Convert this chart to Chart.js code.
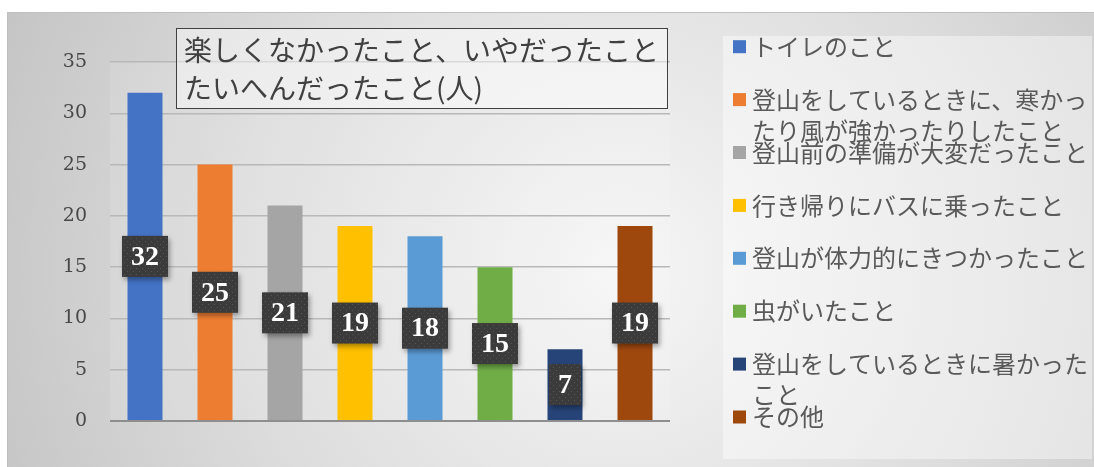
<!DOCTYPE html>
<html><head><meta charset="utf-8">
<script src="https://cdn.jsdelivr.net/npm/chart.js@4/dist/chart.umd.min.js"></script>
<style>html,body{margin:0;padding:0;background:#fff;overflow:hidden}canvas{display:block}</style>
</head><body>
<canvas id="c" width="1094" height="467"></canvas>
<script>
const categories = [
  'トイレのこと',
  '登山をしているときに、寒かったり風が強かったりしたこと',
  '登山前の準備が大変だったこと',
  '行き帰りにバスに乗ったこと',
  '登山が体力的にきつかったこと',
  '虫がいたこと',
  '登山をしているときに暑かったこと',
  'その他'
];
const values = [32, 25, 21, 19, 18, 15, 7, 19];
const titleLines = ['楽しくなかったこと、いやだったこと', 'たいへんだったこと(人)'];
const yMin = 0, yMax = 35, yStep = 5;
const barColors = ['#4472C4','#ED7D31','#A5A5A5','#FFC000','#5B9BD5','#70AD47','#264478','#9E480E'];

const JP = '"Noto Sans CJK JP","Noto Sans",sans-serif';

function makePattern(ctx){
  const p = document.createElement('canvas');
  p.width = 6; p.height = 6;
  const g = p.getContext('2d');
  g.fillStyle = '#3b3b3b'; g.fillRect(0,0,6,6);
  g.fillStyle = '#555555'; g.fillRect(1,1,1,1); g.fillRect(4,4,1,1);
  return ctx.createPattern(p, 'repeat');
}

const bgPlugin = {
  id: 'bg',
  beforeDraw(chart){
    const ctx = chart.ctx;
    ctx.save();
    ctx.fillStyle = '#ffffff';
    ctx.fillRect(0,0,1094,467);
    const g = ctx.createRadialGradient(620, 270, 0, 620, 270, 700);
    g.addColorStop(0, '#f6f6f6');
    g.addColorStop(0.55, '#dcdcdc');
    g.addColorStop(1, '#c2c2c2');
    ctx.fillStyle = g;
    ctx.fillRect(7,12,1087,455);
    ctx.strokeStyle = '#bfbfbf'; ctx.lineWidth = 1;
    ctx.beginPath(); ctx.moveTo(7.5,467); ctx.lineTo(7.5,12.5); ctx.lineTo(1094,12.5); ctx.stroke();
    const a = chart.chartArea;
    ctx.fillStyle = 'rgba(255,255,255,0.12)';
    ctx.fillRect(a.left, a.top, a.right-a.left, a.bottom-a.top);
    ctx.fillStyle = 'rgba(255,255,255,0.42)';
    ctx.fillRect(723, 36, 369, 423);
    ctx.restore();
  }
};

const labelPlugin = {
  id: 'vlabels',
  afterDatasetsDraw(chart){
    const ctx = chart.ctx;
    const meta = chart.getDatasetMeta(0);
    const pat = makePattern(ctx);
    ctx.save();
    ctx.font = 'bold 28px "Liberation Serif",serif';
    meta.data.forEach((bar, i) => {
      const txt = String(chart.data.datasets[0].data[i]);
      const cy = (bar.y + bar.base) / 2;
      const tw = ctx.measureText(txt).width;
      const w = tw + 18, h = 41;
      const x = bar.x - w/2, y = cy - h/2;
      ctx.save();
      ctx.shadowColor = 'rgba(0,0,0,0.35)';
      ctx.shadowBlur = 5; ctx.shadowOffsetX = 2; ctx.shadowOffsetY = 3;
      ctx.fillStyle = pat;
      ctx.fillRect(x, y, w, h);
      ctx.restore();
      ctx.fillStyle = '#ffffff';
      ctx.textAlign = 'center'; ctx.textBaseline = 'middle';
      ctx.fillText(txt, bar.x, cy + 1);
    });
    ctx.restore();
  }
};

const overlayPlugin = {
  id: 'overlay',
  afterDraw(chart){
    const ctx = chart.ctx;
    ctx.save();
    ctx.fillStyle = 'rgba(255,255,255,0.45)';
    ctx.fillRect(176, 28, 492, 81);
    ctx.strokeStyle = '#404040'; ctx.lineWidth = 1;
    ctx.strokeRect(176.5, 28.5, 491, 80);
    ctx.fillStyle = '#404040';
    ctx.font = '28px ' + JP;
    ctx.textBaseline = 'middle'; ctx.textAlign = 'left';
    ctx.fillText(titleLines[0], 184, 50);
    ctx.fillText(titleLines[1], 184, 88);
    ctx.font = '24px ' + JP;
    const maxW = 340;
    chart.data.labels.forEach((lab, i) => {
      const cy = 46.7 + i * 52.9;
      ctx.fillStyle = chart.data.datasets[0].backgroundColor[i];
      ctx.fillRect(733, cy - 6.5, 13, 13);
      const lines = [];
      let cur = '';
      for (const ch of lab) {
        if (ctx.measureText(cur + ch).width > maxW && cur) { lines.push(cur); cur = ch; }
        else cur += ch;
      }
      if (cur) lines.push(cur);
      ctx.fillStyle = '#595959';
      lines.forEach((ln, k) => ctx.fillText(ln, 752, cy + k * 31));
    });
    ctx.restore();
  }
};

new Chart(document.getElementById('c'), {
  type: 'bar',
  data: {
    labels: categories,
    datasets: [{ data: values, backgroundColor: barColors, borderWidth: 0, barPercentage: 0.5, categoryPercentage: 1.0 }]
  },
  options: {
    responsive: false,
    devicePixelRatio: 1,
    animation: false,
    layout: { padding: { left: 0, top: 62, right: 424, bottom: 46 } },
    plugins: { legend: { display: false }, tooltip: { enabled: false }, title: { display: false } },
    scales: {
      x: { display: false },
      y: {
        min: yMin, max: yMax,
        afterFit(s){ s.width = 110; },
        border: { display: false },
        grid: {
          drawTicks: false,
          color: (c) => c.tick && c.tick.value === 0 ? '#8e8e8e' : '#b8b8b8',
          lineWidth: (c) => c.tick && c.tick.value === 0 ? 2 : 1.5
        },
        ticks: {
          stepSize: yStep,
          padding: 23,
          color: '#484848',
          font: { family: '"DejaVu Serif", serif', size: 19 }
        }
      }
    }
  },
  plugins: [bgPlugin, labelPlugin, overlayPlugin]
});
</script>
</body></html>
